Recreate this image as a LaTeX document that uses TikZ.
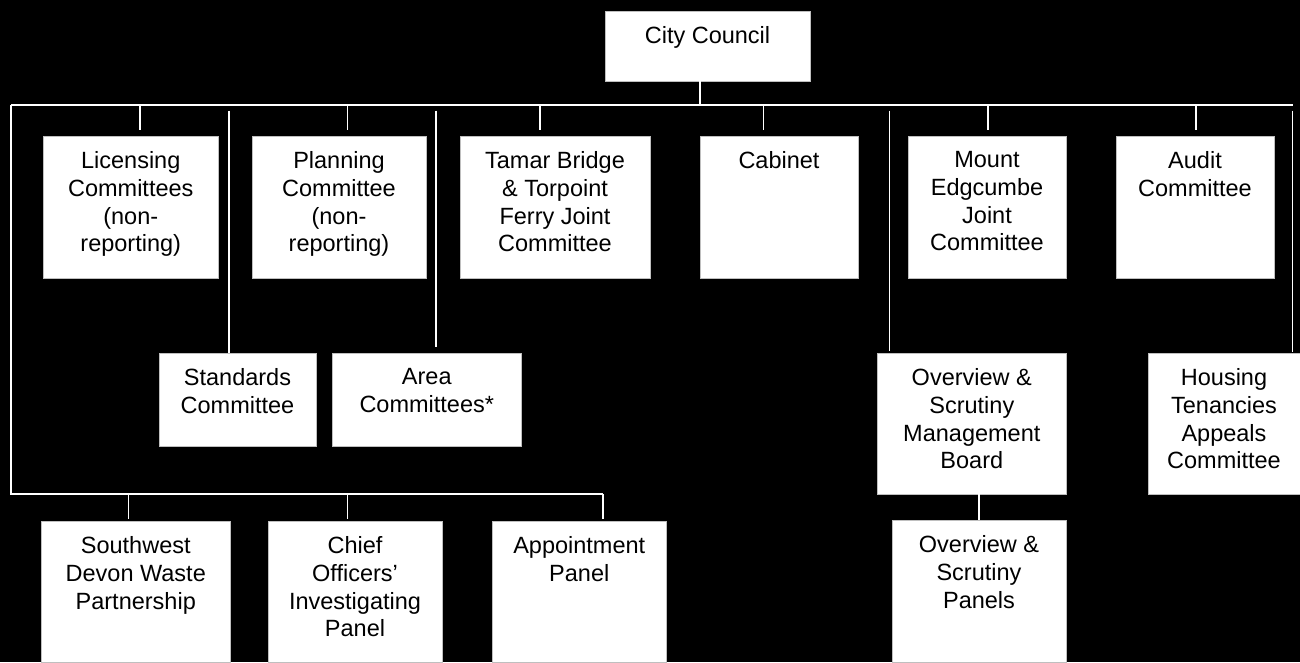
\documentclass[tikz,border=0pt]{standalone}
\usepackage{fontspec}
\setmainfont{Liberation Sans}
\usetikzlibrary{fit}
\tikzset{
  box/.style={fill=white, draw=black!25, line width=0.6pt, inner sep=0pt, outer sep=0pt},
  txt/.style={inner sep=0pt, align=center, text=black, font={\fontsize{23.5}{27.7}\selectfont}},
  conn/.style={draw=white, line width=1.3pt}
}
\newcommand{\orgbox}[6]{%
  \node[box, fit={(#2,#3) (#4,#5)}] (#1) {};
  \node[txt, anchor=north] (#1-t) at ([yshift=-15.5pt]#1.north) {#6};
}
\begin{document}
\begin{tikzpicture}[x=1pt,y=-1pt]
\useasboundingbox (0,0) rectangle (1300,662);
\fill[black] (0,0) rectangle (1300,662);

% boxes
\orgbox{cc}{605}{11}{810}{81}{City Council}
\orgbox{lic}{43.5}{136}{218}{278}{Licensing\\Committees\\(non-\\reporting)}
\orgbox{plan}{252}{136}{426}{278}{Planning\\Committee\\(non-\\reporting)}
\orgbox{tamar}{460}{136}{650}{278}{Tamar Bridge\\\& Torpoint\\Ferry Joint\\Committee}
\orgbox{cab}{700}{136}{858}{278}{Cabinet}
\orgbox{mount}{908}{136}{1066}{278}{Mount\\Edgcumbe\\Joint\\Committee}
\orgbox{audit}{1116}{136}{1274}{278}{Audit\\Committee}
\orgbox{std}{159}{353}{316}{446}{Standards\\Committee}
\orgbox{area}{332}{353}{521.5}{446}{Area\\Committees*}
\orgbox{osmb}{877.6}{353}{1066}{494}{Overview \&\\Scrutiny\\Management\\Board}
\orgbox{hous}{1148}{353}{1300}{494}{Housing\\Tenancies\\Appeals\\Committee}
\orgbox{swd}{41.5}{521}{230}{662}{Southwest\\Devon Waste\\Partnership}
\orgbox{chief}{268}{521}{442}{662}{Chief\\Officers’\\Investigating\\Panel}
\orgbox{appt}{492}{521}{666.5}{662}{Appointment\\Panel}
\orgbox{osp}{892}{520}{1066}{662}{Overview \&\\Scrutiny\\Panels}

% main bus
\coordinate (busL) at (11,105);
\coordinate (busR) at (1292.6,105);
\coordinate (busC) at (700,105);
\draw[conn] (cc.south -| busC) -- (busC);
\draw[conn] (busL) -- (busR);

% stubs to first row (short, with a gap above the boxes)
\foreach \x/\n in {140/lic,347.5/plan,540/tamar,763.6/cab,988/mount,1196/audit}{
  \coordinate (s-\n) at (\x,105);
  \draw[conn] (s-\n) -- ([yshift=6pt]s-\n |- \n.north);
}

% long verticals to the second row
\foreach \x/\n/\g in {229/std/0,436/area/6,889.6/osmb/2,1292.6/hous/1}{
  \coordinate (v-\n) at (\x,110.7);
  \draw[conn] (v-\n) -- ([yshift=\g pt]v-\n |- \n.north);
}

% left spine and bottom bus
\coordinate (bbL) at (11,494);
\coordinate (bbR) at (603,494);
\draw[conn] (busL) -- (bbL) -- (bbR);
\foreach \x/\n in {128.5/swd,347.4/chief,603/appt}{
  \coordinate (t-\n) at (\x,494);
  \draw[conn] (t-\n) -- ([yshift=2.5pt]t-\n |- \n.north);
}

% management board to panels
\draw[conn] (osmb.south -| 979,0) -- (osp.north -| 979,0);
\end{tikzpicture}
\end{document}
